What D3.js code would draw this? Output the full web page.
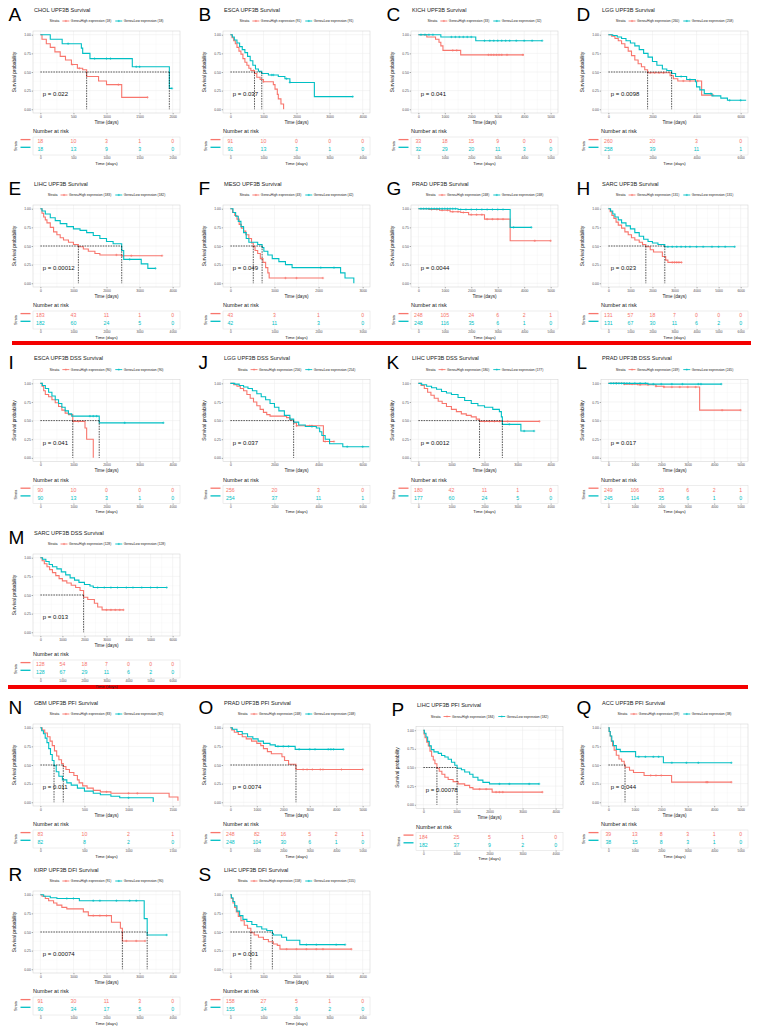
<!DOCTYPE html>
<html lang="en">
<head>
<meta charset="UTF-8">
<title>UPF3B Kaplan-Meier panels</title>
<script src="https://d3js.org/d3.v7.min.js"></script>
<style>
  body { margin: 0; background: #fff; }
  svg { display: block; }
</style>
</head>
<body>
<div id="chart"></div>
<script>
// ---- panel content ----
const letters = ["A","B","C","D","E","F","G","H","I","J","K","L","M","N","O","P","Q","R","S"];
const titles = [
  "CHOL UPF3B Survival", "ESCA UPF3B Survival", "KICH UPF3B Survival", "LGG UPF3B Survival",
  "LIHC UPF3B Survival", "MESO UPF3B Survival", "PRAD UPF3B Survival", "SARC UPF3B Survival",
  "ESCA UPF3B DSS Survival", "LGG UPF3B DSS Survival", "LIHC UPF3B DSS Survival", "PRAD UPF3B DSS Survival",
  "SARC UPF3B DSS Survival",
  "GBM UPF3B PFI Survival", "PRAD UPF3B PFI Survival", "LIHC UPF3B PFI Survival", "ACC UPF3B PFI Survival",
  "KIRP UPF3B DFI Survival", "LIHC UPF3B DFI Survival"
];
const nHigh = [18, 91, 33, 260, 183, 43, 248, 131, 90, 256, 180, 249, 128, 83, 248, 184, 39, 91, 158];
const nLow  = [18, 91, 32, 258, 182, 42, 248, 131, 90, 254, 177, 245, 128, 82, 248, 182, 38, 90, 155];
const pValues = ["0.022","0.037","0.041","0.0098","0.00012","0.049","0.0044","0.023",
                 "0.041","0.037","0.0012","0.017","0.013",
                 "0.011","0.0074","0.00078","0.044","0.00074","0.001"];
const xMax  = [2000, 4000, 5000, 6000, 4000, 3000, 5000, 6000, 4000, 6000, 4000, 5000, 6000, 1500, 5000, 4000, 5000, 4000, 4000];
const xStep = [500, 1000, 1000, 2000, 1000, 1000, 1000, 1000, 1000, 2000, 1000, 1000, 1000, 500, 1000, 1000, 1000, 1000, 1000];
const medians = [[700, 1950], [730, 950], [], [1780, 2870], [1150, 2460], [520, 720], [], [1700, 2560],
                 [980, 1780], [2870], [1850, 2540], [], [1960],
                 [155, 260], [2480], [410, 1020], [630], [2480, 3230], [620, 1270]];

// number at risk, one value per x tick
const riskHigh = [[18,10,3,1,0], [91,10,0,0,0], [33,18,15,9,0,0], [260,20,3,0], [183,43,11,1,0], [43,3,1,0],
                  [248,105,24,6,2,1], [131,57,18,7,0,0,0], [90,10,0,0,0], [256,20,3,0], [180,42,11,1,0],
                  [249,106,23,6,2,1], [128,54,18,7,0,0,0], [83,10,2,1], [248,82,16,5,2,1], [184,25,5,1,0],
                  [39,13,8,3,1,0], [91,30,11,3,0], [158,27,5,1,0]];
const riskLow  = [[18,13,9,3,0], [91,13,3,1,0], [32,29,20,11,3,0], [258,39,11,1], [182,60,24,5,0], [42,11,3,0],
                  [248,116,35,6,1,0], [131,67,30,11,6,2,0], [90,13,3,1,0], [254,37,11,1], [177,60,24,5,0],
                  [245,114,35,6,1,0], [128,67,29,11,6,2,0], [82,8,2,0], [248,104,30,6,1,0], [182,37,9,2,0],
                  [38,15,8,3,1,0], [90,34,17,5,0], [155,34,9,2,0]];

// Kaplan-Meier steps [time, survival after], Gene=High expression
const highSteps = [
  [[0,1],[25,0.94],[90,0.88],[150,0.83],[220,0.77],[300,0.71],[380,0.66],[470,0.60],[560,0.55],[640,0.53],[700,0.44],[880,0.38],[1000,0.33],[1230,0.16]],
  [[0,1],[50,0.96],[100,0.92],[150,0.88],[200,0.83],[260,0.78],[320,0.74],[380,0.68],[440,0.63],[500,0.59],[560,0.55],[620,0.52],[730,0.48],[800,0.43],[900,0.40],[1000,0.37],[1300,0.33],[1350,0.27],[1420,0.20],[1450,0.14],[1530,0.07],[1610,0]],
  [[0,1],[320,0.97],[650,0.94],[780,0.90],[850,0.85],[930,0.79],[1600,0.73]],
  [[0,1],[150,0.98],[300,0.95],[450,0.92],[600,0.88],[750,0.83],[900,0.78],[1050,0.72],[1200,0.66],[1350,0.61],[1500,0.57],[1650,0.53],[1780,0.49],[2800,0.45],[2950,0.41],[3150,0.38],[4230,0.19]],
  [[0,1],[50,0.94],[100,0.89],[150,0.85],[200,0.81],[300,0.75],[400,0.69],[500,0.65],[600,0.61],[700,0.58],[850,0.55],[1000,0.52],[1150,0.49],[1300,0.46],[1450,0.43],[1650,0.40],[1800,0.38],[2450,0.37]],
  [[0,1],[50,0.95],[100,0.91],[150,0.86],[200,0.79],[250,0.74],[300,0.70],[350,0.65],[420,0.60],[480,0.54],[520,0.49],[560,0.44],[620,0.40],[680,0.33],[740,0.28],[800,0.21],[850,0.14],[880,0.07]],
  [[0,1],[400,0.99],[800,0.98],[1200,0.96],[1600,0.95],[1900,0.92],[2500,0.86],[3470,0.57]],
  [[0,1],[80,0.96],[160,0.91],[250,0.87],[350,0.82],[450,0.78],[600,0.74],[750,0.69],[900,0.65],[1050,0.61],[1200,0.58],[1400,0.55],[1550,0.52],[1700,0.49],[1900,0.45],[2050,0.42],[2450,0.36],[2600,0.31],[2700,0.28]],
  [[0,1],[50,0.96],[100,0.90],[150,0.85],[250,0.82],[350,0.78],[450,0.74],[550,0.69],[650,0.64],[750,0.60],[850,0.58],[980,0.49],[1350,0.40],[1400,0.25],[1600,0]],
  [[0,1],[150,0.98],[300,0.96],[450,0.93],[600,0.90],[750,0.85],[900,0.80],[1050,0.75],[1200,0.70],[1350,0.65],[1500,0.61],[1650,0.58],[1800,0.56],[2550,0.54],[2700,0.51],[2870,0.47],[3000,0.43],[4220,0.22]],
  [[0,1],[80,0.97],[180,0.93],[280,0.88],[380,0.84],[480,0.80],[600,0.76],[720,0.73],[850,0.69],[1000,0.65],[1150,0.62],[1300,0.59],[1450,0.57],[1600,0.55],[1750,0.52],[1850,0.49]],
  [[0,1],[600,0.99],[1100,0.98],[1800,0.96],[2100,0.95],[3450,0.64]],
  [[0,1],[80,0.96],[180,0.92],[300,0.88],[420,0.84],[550,0.80],[700,0.76],[850,0.72],[1000,0.69],[1200,0.66],[1400,0.63],[1600,0.60],[1800,0.56],[1960,0.47],[2150,0.44],[2450,0.39],[2600,0.34],[2800,0.30]],
  [[0,1],[20,0.97],[50,0.93],[80,0.88],[110,0.82],[135,0.76],[160,0.69],[185,0.62],[210,0.57],[240,0.52],[260,0.48],[290,0.44],[330,0.40],[380,0.36],[420,0.30],[440,0.26],[480,0.22],[530,0.19],[600,0.16],[680,0.14],[800,0.12],[1460,0.07],[1560,0.02]],
  [[0,1],[50,0.97],[150,0.94],[300,0.91],[450,0.88],[600,0.85],[800,0.82],[1000,0.79],[1150,0.76],[1250,0.72],[1400,0.68],[1550,0.65],[1950,0.61],[2050,0.56],[2200,0.51],[2480,0.44]],
  [[0,1],[20,0.95],[50,0.90],[100,0.84],[150,0.79],[200,0.72],[250,0.65],[300,0.60],[350,0.55],[410,0.49],[480,0.45],[560,0.41],[650,0.37],[750,0.34],[900,0.31],[1050,0.28],[1250,0.26],[1400,0.23],[1500,0.21],[2080,0.17]],
  [[0,1],[30,0.95],[70,0.89],[110,0.82],[160,0.76],[220,0.70],[300,0.63],[400,0.58],[500,0.55],[600,0.51],[630,0.47],[800,0.43],[950,0.40],[1350,0.36],[2390,0.27]],
  [[0,1],[50,0.98],[150,0.95],[250,0.92],[400,0.89],[500,0.86],[650,0.83],[800,0.81],[1300,0.77],[1450,0.72],[2150,0.63],[2420,0.55],[2480,0.38]],
  [[0,1],[30,0.95],[80,0.89],[130,0.83],[180,0.77],[240,0.71],[320,0.65],[420,0.59],[520,0.55],[620,0.49],[720,0.46],[850,0.43],[1000,0.40],[1150,0.37],[1300,0.34],[1420,0.32],[1500,0.27]]
];
const highEnd = [1620, 1610, 3990, 4750, 3680, 2100, 5000, 3320, 1600, 4700, 3660, 5000, 3770, 1560, 5000, 3600, 4650, 3170, 3660];

// Kaplan-Meier steps, Gene=Low expression
const lowSteps = [
  [[0,1],[150,0.94],[330,0.88],[620,0.82],[640,0.75],[750,0.68],[1390,0.57],[1950,0.28]],
  [[0,1],[60,0.97],[120,0.93],[200,0.89],[280,0.84],[360,0.80],[440,0.76],[520,0.71],[600,0.65],[680,0.59],[760,0.54],[850,0.51],[950,0.48],[1150,0.46],[1450,0.44],[1650,0.41],[1800,0.36],[2540,0.17]],
  [[0,1],[850,0.97],[2170,0.92]],
  [[0,1],[200,0.99],[400,0.97],[600,0.95],[800,0.92],[1000,0.89],[1200,0.85],[1400,0.80],[1600,0.75],[1800,0.70],[2000,0.64],[2200,0.59],[2450,0.54],[2650,0.52],[2870,0.48],[3050,0.44],[3550,0.40],[3950,0.37],[4000,0.30],[4150,0.26],[4350,0.21],[4700,0.18],[5100,0.15],[5400,0.12]],
  [[0,1],[50,0.97],[150,0.93],[300,0.88],[450,0.84],[600,0.80],[800,0.76],[1000,0.73],[1200,0.71],[1400,0.68],[1600,0.64],[1800,0.60],[2000,0.56],[2200,0.53],[2460,0.44],[2520,0.32],[3050,0.26],[3250,0.20]],
  [[0,1],[60,0.95],[120,0.90],[180,0.83],[240,0.76],[300,0.68],[360,0.60],[420,0.55],[620,0.52],[720,0.48],[760,0.43],[850,0.38],[950,0.33],[1100,0.29],[1250,0.25],[1400,0.21],[2500,0.14],[2600,0.07],[2800,0]],
  [[0,1],[1500,0.99],[3470,0.75]],
  [[0,1],[100,0.97],[200,0.93],[300,0.89],[450,0.85],[600,0.81],[800,0.77],[1000,0.73],[1200,0.68],[1400,0.63],[1600,0.59],[1800,0.56],[2000,0.54],[2250,0.52],[2560,0.49]],
  [[0,1],[60,0.97],[150,0.93],[250,0.88],[350,0.83],[450,0.78],[550,0.73],[650,0.68],[750,0.63],[850,0.59],[950,0.56],[1780,0.47]],
  [[0,1],[200,0.99],[400,0.97],[600,0.95],[800,0.93],[1000,0.90],[1200,0.86],[1400,0.82],[1600,0.78],[1800,0.73],[2000,0.68],[2200,0.63],[2450,0.57],[2700,0.52],[2870,0.48],[3100,0.44],[3400,0.42],[3900,0.40],[4050,0.35],[4150,0.30],[4300,0.25],[4500,0.19],[5100,0.15]],
  [[0,1],[100,0.98],[250,0.96],[400,0.94],[550,0.92],[700,0.89],[850,0.87],[1000,0.85],[1200,0.81],[1400,0.77],[1600,0.73],[1800,0.70],[2000,0.68],[2250,0.65],[2450,0.62],[2510,0.55],[2540,0.45],[3100,0.36]],
  [[0,1],[1500,0.99]],
  [[0,1],[100,0.98],[250,0.95],[400,0.91],[550,0.88],[750,0.85],[950,0.81],[1150,0.77],[1350,0.73],[1550,0.70],[1750,0.67],[2000,0.64],[2250,0.62],[2400,0.60]],
  [[0,1],[15,0.96],[35,0.92],[55,0.86],[75,0.80],[95,0.72],[115,0.64],[135,0.56],[155,0.49],[180,0.41],[210,0.35],[250,0.30],[300,0.26],[350,0.23],[420,0.19],[500,0.15],[600,0.12],[680,0.10],[800,0.08],[900,0.06],[1280,0.01]],
  [[0,1],[80,0.98],[250,0.95],[450,0.92],[650,0.88],[850,0.85],[1050,0.82],[1250,0.79],[1500,0.77],[1700,0.75],[2450,0.71]],
  [[0,1],[30,0.96],[80,0.91],[130,0.85],[180,0.79],[240,0.74],[320,0.71],[450,0.69],[550,0.66],[650,0.64],[750,0.61],[850,0.57],[950,0.53],[1020,0.49],[1150,0.47],[1250,0.44],[1400,0.41],[1500,0.37],[1650,0.33],[1800,0.30],[2000,0.28]],
  [[0,1],[30,0.95],[70,0.89],[130,0.82],[190,0.76],[300,0.71],[450,0.68],[1030,0.61],[2080,0.53]],
  [[0,1],[100,0.98],[300,0.96],[500,0.95],[1180,0.92],[3140,0.68],[3230,0.46]],
  [[0,1],[30,0.96],[80,0.91],[130,0.85],[200,0.78],[280,0.72],[380,0.67],[500,0.64],[650,0.60],[800,0.57],[950,0.54],[1100,0.52],[1270,0.48],[1300,0.46],[1550,0.43],[1700,0.39],[2100,0.33]]
];
const lowEnd = [1990, 3700, 4680, 6250, 3480, 2800, 4270, 5730, 3720, 6300, 3500, 4270, 5730, 1285, 4270, 3500, 4650, 3820, 3470];

// censoring times ("+" marks)
const highCensor = [
  [480, 590, 1180, 1620], [700, 1000], [1300, 1450, 2650, 2750, 2850, 2950, 3050, 3150, 3350, 3950],
  [1900, 2100, 2300, 2500, 3400, 3700, 4050, 4750], [2300, 2500, 2750, 3680], [1250, 1500, 2100],
  [500, 700, 900, 1100, 1300, 1500, 1700, 2000, 2200, 2400, 2600, 2800, 3000, 3200, 4400, 5000],
  [2900, 3000, 3100, 3200, 3320], [1000, 1150], [3000, 3600, 3700, 4300, 4700],
  [2000, 2150, 2300, 2450, 2700, 3660], [300, 600, 900, 1200, 1500, 1800, 2100, 2400, 2700, 3000, 3300, 4300, 5000],
  [3000, 3200, 3400, 3600, 3770], [750, 1000, 1100], [2750, 2900, 3100, 3400, 3500, 4200, 5000],
  [1700, 1900, 2200, 2300, 2400, 3600], [1600, 1800, 2000, 3700, 3750, 4650], [1600, 1800, 2000, 2600, 2900, 3170],
  [1700, 2000, 2300, 2600, 2800, 3660]
];
const lowCensor = [
  [420, 820, 1000, 1060, 1450, 1500, 1990], [1250, 1300, 1700, 1800, 3700],
  [100, 250, 400, 550, 1250, 1400, 1550, 1700, 1850, 2000, 2500, 2700, 2850, 3000, 3150, 3300, 3450, 3700, 4000, 4300, 4680],
  [3300, 3700, 4650, 5500, 6000], [2700, 3480], [2050, 2350],
  [100, 200, 300, 400, 500, 600, 700, 800, 900, 1000, 1100, 1200, 1300, 1400, 1600, 1800, 2000, 2200, 2400, 2600, 2800, 3000, 3200, 3600, 4270],
  [2700, 2900, 3100, 3300, 3500, 3700, 4000, 4300, 4700, 5000, 5300, 5730], [1500, 1600, 1700, 2550, 3720],
  [3700, 5300, 6000], [2750, 3200, 3500],
  [100, 200, 300, 400, 500, 600, 700, 800, 1000, 1200, 1400, 1700, 2000, 2400, 2800, 3400, 3500, 4270],
  [2600, 2900, 3200, 3500, 3900, 4200, 4600, 5000, 5300, 5730], [1000],
  [1800, 2000, 2200, 2600, 3000, 3200, 3700, 3800, 3900, 4270], [2300, 2600, 3200, 3500],
  [1150, 1400, 1700, 1900, 2400, 2950, 3400, 4650], [800, 1000, 1600, 1800, 2300, 2700, 2900, 3820],
  [2300, 2600, 3200, 3470]
];

// ---- layout ----
const colX = [0, 190, 378, 568];
const rowY = [0, 174, 348.6, 523, 693, 860];
const panelCol = [0,1,2,3, 0,1,2,3, 0,1,2,3, 0, 0,1,2,3, 0,1];
const panelRow = [0,0,0,0, 1,1,1,1, 2,2,2,2, 3, 4,4,4,4, 5,5];
const panelShift = { 15: [5, 2.5] };

const RED = "#F8766D", CYAN = "#00BFC4";
const box = { l: 33, r: 180, t: 31, b: 113 };
const risk = { t: 137, b: 155 };

const svg = d3.select("#chart").append("svg")
    .attr("width", 757)
    .attr("height", 1031)
    .style("font-family", "'Liberation Sans', Arial, sans-serif");

svg.append("rect").attr("width", 757).attr("height", 1031).attr("fill", "#fff");

// red separators between endpoint groups
svg.append("rect").attr("x", 12).attr("y", 341).attr("width", 739).attr("height", 4).attr("fill", "#f40000");
svg.append("rect").attr("x", 8).attr("y", 685).attr("width", 740).attr("height", 4).attr("fill", "#f40000");

function survAt(steps, t) {
    let s = 1;
    steps.forEach(d => { if (d[0] <= t) s = d[1]; });
    return s;
}

function styleAxis(sel, size) {
    sel.attr("font-family", null).attr("font-size", size);
    sel.select(".domain").remove();
    sel.selectAll("line").attr("stroke", "#333").attr("stroke-width", 0.4);
    sel.selectAll("text").attr("fill", "#4d4d4d");
}

letters.forEach((letter, i) => {
    const sh = panelShift[i] || [0, 0];
    const g = svg.append("g")
        .attr("transform", `translate(${colX[panelCol[i]] + sh[0]},${rowY[panelRow[i]] + sh[1]})`);

    const padX = (box.r - box.l) * 0.05, padY = (box.b - box.t) * 0.0455;
    const x = d3.scaleLinear().domain([0, xMax[i]]).range([box.l + padX, box.r - padX]);
    const y = d3.scaleLinear().domain([0, 1]).range([box.b - padY, box.t + padY]);
    const xt = d3.range(0, xMax[i] + 1, xStep[i]);
    const yt = [0, 0.25, 0.5, 0.75, 1];

    // letter and title
    g.append("text").attr("x", 8.5).attr("y", 20.5).attr("font-size", 19).attr("fill", "#000").text(letter);
    g.append("text").attr("x", 34).attr("y", 11.5).attr("font-size", 5.6).attr("fill", "#222").text(titles[i]);

    // legend
    const leg = g.append("g");
    let cx = 0;
    const t0 = leg.append("text").attr("x", cx).attr("y", 21).attr("dy", "0.35em")
        .attr("font-size", 3.7).attr("fill", "#222").text("Strata");
    cx += t0.node().getComputedTextLength() + 3;
    [[RED, `Gene=High expression (${nHigh[i]})`], [CYAN, `Gene=Low expression (${nLow[i]})`]].forEach(([col, lab], k) => {
        if (k) cx += 4;
        leg.append("line").attr("x1", cx).attr("x2", cx + 7).attr("y1", 21).attr("y2", 21)
            .attr("stroke", col).attr("stroke-width", 0.9);
        leg.append("path").attr("d", `M${cx + 2.4},21h2.2M${cx + 3.5},19.9v2.2`)
            .attr("stroke", col).attr("stroke-width", 0.55);
        cx += 8.5;
        const tl = leg.append("text").attr("x", cx).attr("y", 21).attr("dy", "0.35em")
            .attr("font-size", 3.3).attr("fill", "#222").text(lab);
        cx += tl.node().getComputedTextLength();
    });
    leg.attr("transform", `translate(${(box.l + box.r) / 2 - cx / 2},0)`);

    // panel background and grid
    g.append("rect").attr("x", box.l).attr("y", box.t).attr("width", box.r - box.l).attr("height", box.b - box.t)
        .attr("fill", "#fff");
    const minorX = xt.slice(0, -1).map(v => v + xStep[i] / 2);
    const minorY = yt.slice(0, -1).map(v => v + 0.125);
    g.selectAll(null).data(minorX).join("line")
        .attr("x1", d => x(d)).attr("x2", d => x(d)).attr("y1", box.t).attr("y2", box.b)
        .attr("stroke", "#f4f4f4").attr("stroke-width", 0.35);
    g.selectAll(null).data(minorY).join("line")
        .attr("y1", d => y(d)).attr("y2", d => y(d)).attr("x1", box.l).attr("x2", box.r)
        .attr("stroke", "#f4f4f4").attr("stroke-width", 0.35);
    g.selectAll(null).data(xt).join("line")
        .attr("x1", d => x(d)).attr("x2", d => x(d)).attr("y1", box.t).attr("y2", box.b)
        .attr("stroke", "#ebebeb").attr("stroke-width", 0.5);
    g.selectAll(null).data(yt).join("line")
        .attr("y1", d => y(d)).attr("y2", d => y(d)).attr("x1", box.l).attr("x2", box.r)
        .attr("stroke", "#ebebeb").attr("stroke-width", 0.5);
    g.append("rect").attr("x", box.l).attr("y", box.t).attr("width", box.r - box.l).attr("height", box.b - box.t)
        .attr("fill", "none").attr("stroke", "#cfcfcf").attr("stroke-width", 0.5);

    // axes
    const ya = g.append("g").attr("transform", `translate(${box.l},0)`)
        .call(d3.axisLeft(y).tickValues(yt).tickFormat(d3.format(".2f")).tickSize(1.3).tickPadding(0.8));
    styleAxis(ya, 3.4);
    const xa = g.append("g").attr("transform", `translate(0,${box.b})`)
        .call(d3.axisBottom(x).tickValues(xt).tickFormat(d3.format("d")).tickSize(1.3).tickPadding(0.8));
    styleAxis(xa, 3.4);

    g.append("text").attr("transform", `translate(16,${(box.t + box.b) / 2}) rotate(-90)`)
        .attr("text-anchor", "middle").attr("font-size", 4.8).attr("fill", "#222").text("Survival probability");
    g.append("text").attr("x", (box.l + box.r) / 2).attr("y", 123.8).attr("text-anchor", "middle")
        .attr("font-size", 4.6).attr("fill", "#222").text("Time (days)");

    // curves
    const clipId = `clip${i}`;
    g.append("clipPath").attr("id", clipId).append("rect")
        .attr("x", box.l).attr("y", box.t).attr("width", box.r - box.l).attr("height", box.b - box.t);
    const plot = g.append("g").attr("clip-path", `url(#${clipId})`);
    const line = d3.line().x(d => x(d[0])).y(d => y(d[1])).curve(d3.curveStepAfter);
    const series = [
        { steps: highSteps[i], end: highEnd[i], cens: highCensor[i], col: RED },
        { steps: lowSteps[i], end: lowEnd[i], cens: lowCensor[i], col: CYAN }
    ];
    series.forEach(s => {
        const pts = s.steps.concat([[s.end, s.steps[s.steps.length - 1][1]]]);
        plot.append("path").attr("d", line(pts)).attr("fill", "none")
            .attr("stroke", s.col).attr("stroke-width", 1.1);
        plot.append("path")
            .attr("d", s.cens.map(t => {
                const px = x(t), py = y(survAt(s.steps, t));
                return `M${px - 1.2},${py}h2.4M${px},${py - 1.2}v2.4`;
            }).join(""))
            .attr("stroke", s.col).attr("stroke-width", 0.6).attr("fill", "none");
    });

    // median survival lines
    if (medians[i].length) {
        const dash = "1.6,1";
        plot.append("line").attr("x1", x(0)).attr("x2", x(d3.max(medians[i])))
            .attr("y1", y(0.5)).attr("y2", y(0.5))
            .attr("stroke", "#000").attr("stroke-width", 0.65).attr("stroke-dasharray", dash);
        medians[i].forEach(m => {
            plot.append("line").attr("x1", x(m)).attr("x2", x(m)).attr("y1", y(0.5)).attr("y2", y(0))
                .attr("stroke", "#000").attr("stroke-width", 0.65).attr("stroke-dasharray", dash);
        });
    }

    // p value
    g.append("text").attr("x", x(0) + 2.5).attr("y", y(0.2)).attr("dy", "0.35em")
        .attr("font-size", 6).attr("fill", "#111").text(`p = ${pValues[i]}`);

    // risk table
    g.append("text").attr("x", box.l).attr("y", 133).attr("font-size", 5.5).attr("fill", "#222").text("Number at risk");
    g.selectAll(null).data(xt).join("line")
        .attr("x1", d => x(d)).attr("x2", d => x(d)).attr("y1", risk.t).attr("y2", risk.b)
        .attr("stroke", "#f0f0f0").attr("stroke-width", 0.5);
    g.append("rect").attr("x", box.l).attr("y", risk.t).attr("width", box.r - box.l).attr("height", risk.b - risk.t)
        .attr("fill", "none").attr("stroke", "#dcdcdc").attr("stroke-width", 0.5);
    [[riskHigh[i], RED, 141.5, 139.6], [riskLow[i], CYAN, 149.2, 147.3]].forEach(([vals, col, ty, ky]) => {
        g.selectAll(null).data(vals).join("text")
            .attr("x", (d, k) => x(xt[k])).attr("y", ty).attr("dy", "0.35em").attr("text-anchor", "middle")
            .attr("font-size", 5.2).attr("fill", col).text(d => d);
        g.append("line").attr("x1", 20.5).attr("x2", 30.5).attr("y1", ky).attr("y2", ky)
            .attr("stroke", col).attr("stroke-width", 1.3);
    });
    g.append("text").attr("transform", `translate(16,${(risk.t + risk.b) / 2}) rotate(-90)`)
        .attr("text-anchor", "middle").attr("dy", "0.35em").attr("font-size", 3.7).attr("fill", "#222").text("Strata");
    const ra = g.append("g").attr("transform", `translate(0,${risk.b})`)
        .call(d3.axisBottom(x).tickValues(xt).tickFormat(d3.format("d")).tickSize(1.2).tickPadding(0.6));
    styleAxis(ra, 3.2);
    g.append("text").attr("x", (box.l + box.r) / 2).attr("y", 164.5).attr("text-anchor", "middle")
        .attr("font-size", 4.3).attr("fill", "#222").text("Time (days)");
});
</script>
</body>
</html>
